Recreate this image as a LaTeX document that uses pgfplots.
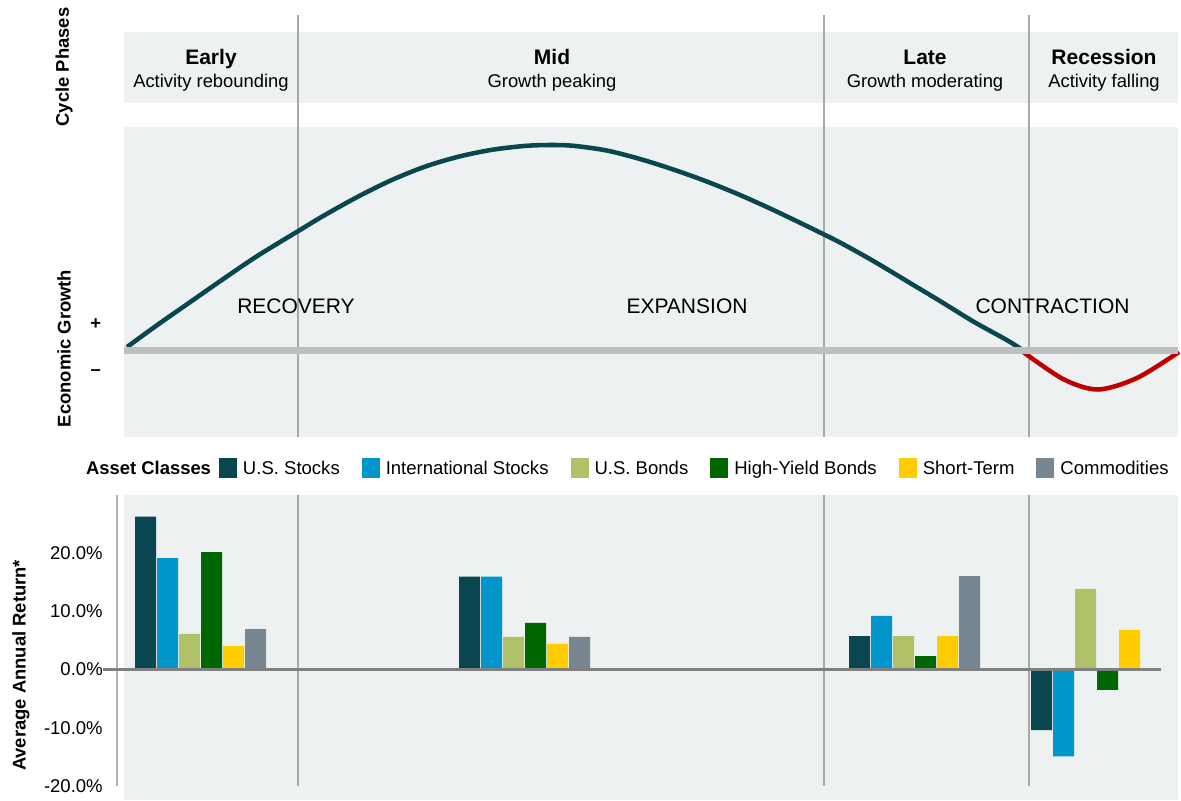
\documentclass[border=0pt]{standalone}
\usepackage{pgfplots}
\pgfplotsset{compat=1.18}
\usepackage{fontspec}
\setmainfont{Liberation Sans}
\definecolor{bg}{RGB}{237,241,241}
\definecolor{divc}{RGB}{168,168,168}
\definecolor{zl}{RGB}{191,191,191}
\definecolor{zb}{RGB}{128,128,128}
\definecolor{yl}{RGB}{180,176,174}
\definecolor{cUS}{RGB}{10,70,80}
\definecolor{cIN}{RGB}{0,150,204}
\definecolor{cBO}{RGB}{176,193,104}
\definecolor{cHY}{RGB}{0,102,0}
\definecolor{cST}{RGB}{255,204,0}
\definecolor{cCO}{RGB}{120,134,145}
\definecolor{cRed}{RGB}{192,0,0}
\newcommand\fa{\fontsize{15.75pt}{18pt}\selectfont}
\newcommand\fb{\fontsize{13.8pt}{16pt}\selectfont}
\newcommand\fc{\fontsize{13.9pt}{16pt}\selectfont}
\begin{document}
\begin{tikzpicture}
\useasboundingbox (0,0) rectangle (885.75pt,600pt);
% ---------------- top panel (coordinates: x = px, y = -px) ----------------
\begin{axis}[at={(93pt,272.25pt)}, anchor=south west, scale only axis,
  width=790.5pt, height=316.5pt, xmin=124, xmax=1178, ymin=-437, ymax=-15,
  hide axis, clip=false]
\fill[bg] (axis cs:124,-102.7) rectangle (axis cs:1178,-32);
\fill[bg] (axis cs:124,-437) rectangle (axis cs:1178,-127);
\draw[divc, line width=1pt] (axis cs:298,-437) -- (axis cs:298,-15);
\draw[divc, line width=1pt] (axis cs:824,-437) -- (axis cs:824,-15);
\draw[divc, line width=1pt] (axis cs:1029,-437) -- (axis cs:1029,-15);
\addplot[smooth, tension=0.5, cUS, line width=3.4pt] coordinates {
  (127,-347) (157.3,-325) (190.7,-301.7) (224,-278.5) (257.3,-256) (298.3,-231)
  (324,-215.5) (357.3,-197) (390.7,-180.5) (424,-167) (457.3,-157) (490.7,-150)
  (524,-146) (550,-145) (573.3,-145.8) (606.7,-150.5) (640,-159) (673.3,-169.5)
  (706.7,-181.5) (740,-195) (773.3,-210) (806.7,-226) (840,-242.5) (873.3,-261)
  (906.7,-281) (940,-301) (973.3,-321.5) (1006.7,-340) (1021,-349)};
\addplot[smooth, tension=0.5, cRed, line width=3.4pt] coordinates {
  (1020.5,-350) (1063,-379) (1098,-389.5) (1137,-378) (1179,-352)};
\draw[zl, line width=5.25pt] (axis cs:124,-350.5) -- (axis cs:1178,-350.5);
\node[anchor=base, font=\fa\bfseries] at (axis cs:211,-64.5) {Early};
\node[anchor=base, font=\fb] at (axis cs:211,-87.5) {Activity rebounding};
\node[anchor=base, font=\fa\bfseries] at (axis cs:552,-64.5) {Mid};
\node[anchor=base, font=\fb] at (axis cs:552,-87.5) {Growth peaking};
\node[anchor=base, font=\fa\bfseries] at (axis cs:925,-64.5) {Late};
\node[anchor=base, font=\fb] at (axis cs:925,-87.5) {Growth moderating};
\node[anchor=base, font=\fa\bfseries] at (axis cs:1104,-64.5) {Recession};
\node[anchor=base, font=\fb] at (axis cs:1104,-87.5) {Activity falling};
\node[anchor=base, font=\fa] at (axis cs:296,-313.3) {RECOVERY};
\node[anchor=base, font=\fa] at (axis cs:687,-313.3) {EXPANSION};
\node[anchor=base, font=\fa] at (axis cs:1052.5,-313.3) {CONTRACTION};
\node[rotate=90, font=\fb\bfseries] at (axis cs:64,-67) {Cycle Phases};
\node[rotate=90, font=\fb\bfseries] at (axis cs:64,-348.5) {Economic Growth};
\node[font=\fb\bfseries] at (axis cs:95.7,-324.3) {+};
\node[font=\fb\bfseries] at (axis cs:95.7,-372.7) {–};
\node[anchor=base west, font=\fb\bfseries] at (axis cs:81.5,-474.3) {Asset Classes};
\node[rotate=90, font=\fb\bfseries] at (axis cs:21,-665.5) {Average Annual Return*};
\end{axis}
% ---------------- bottom bar panel (x = px, y = %) ----------------
\begin{axis}[at={(93pt,0pt)}, anchor=south west, scale only axis,
  width=790.5pt, height=228.75pt, xmin=124, xmax=1178, ymin=-22.37, ymax=29.91,
  axis line style={draw=none}, axis background/.style={fill=bg},
  ytick={-20,-10,0,10,20}, xtick=\empty, major tick length=0pt,
  /pgf/number format/assume math mode=true,
  yticklabel={\pgfmathprintnumber[fixed,fixed zerofill,precision=1]{\tick}\%},
  yticklabel style={anchor=east, inner sep=0pt, xshift=-15.75pt, font=\fc},
  ybar, bar width=21, clip=false,
  legend columns=6,
  legend style={at={(axis description cs:0.0901,1.0885)}, anchor=west,
    draw=none, fill=none, inner sep=0pt, outer sep=0pt, font=\fc,
    nodes={inner sep=0pt},
    /tikz/every odd column/.append style={column sep=4.5pt},
    /tikz/every even column/.append style={column sep=16.5pt}},
  legend image code/.code={\fill[#1, draw=none] (0pt,-6.3pt) rectangle (13.5pt,8pt);}
]
\draw[divc, line width=1pt] (axis cs:298,-20) -- (axis cs:298,29.91);
\draw[divc, line width=1pt] (axis cs:824,-20) -- (axis cs:824,29.91);
\draw[divc, line width=1pt] (axis cs:1029,-20) -- (axis cs:1029,29.91);
\addplot[fill=cUS, draw=none, bar shift=0pt] coordinates {(145.5,26.2) (469.5,15.9) (859.5,5.7) (1041.5,-10.4)};
\addplot[fill=cIN, draw=none, bar shift=0pt] coordinates {(167.5,19.1) (491.5,15.9) (881.5,9.2) (1063.5,-14.9)};
\addplot[fill=cBO, draw=none, bar shift=0pt] coordinates {(189.5,6.1) (513.5,5.6) (903.5,5.7) (1085.5,13.8)};
\addplot[fill=cHY, draw=none, bar shift=0pt] coordinates {(211.5,20.1) (535.5,8.0) (925.5,2.3) (1107.5,-3.5)};
\addplot[fill=cST, draw=none, bar shift=0pt] coordinates {(233.5,4.0) (557.5,4.4) (947.5,5.7) (1129.5,6.8)};
\addplot[fill=cCO, draw=none, bar shift=0pt] coordinates {(255.5,6.9) (579.5,5.6) (969.5,16.0)};
\legend{U.S. Stocks, International Stocks, U.S. Bonds, High-Yield Bonds, Short-Term, Commodities}
\draw[yl, line width=1.5pt] (axis cs:116.7,-20) -- (axis cs:116.7,29.91);
\draw[zb, line width=2pt] (axis cs:103,0) -- (axis cs:1161,0);
\end{axis}
\end{tikzpicture}
\end{document}
